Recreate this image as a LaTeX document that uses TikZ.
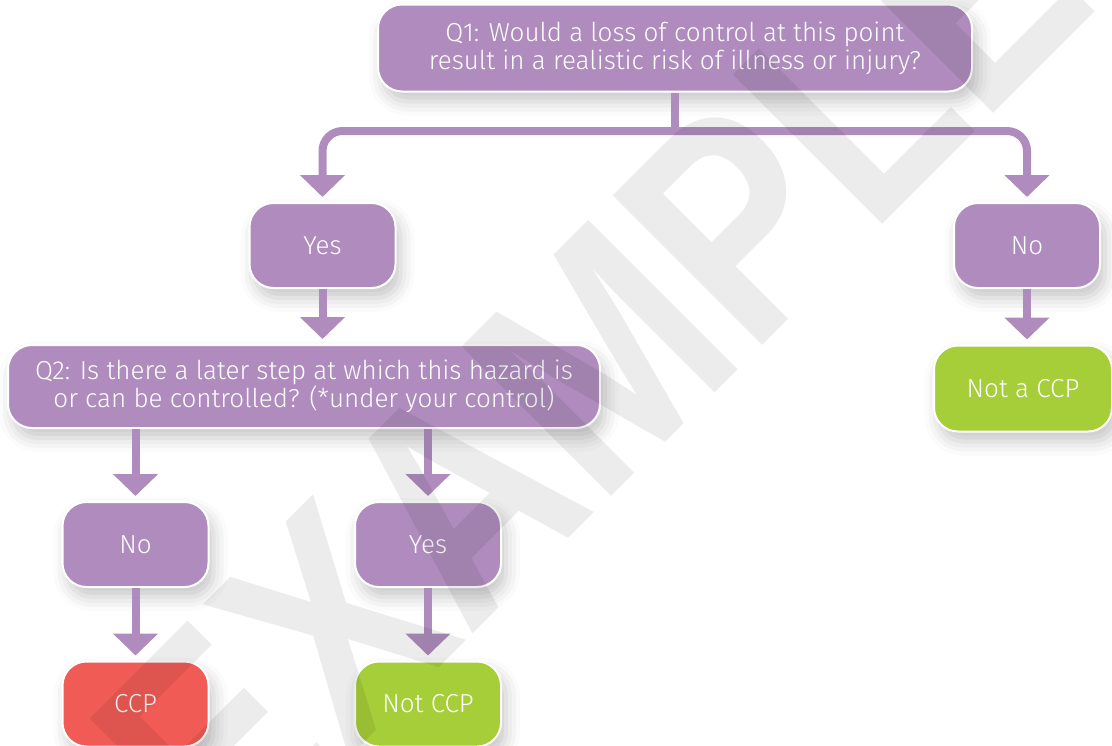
\documentclass[tikz,border=0pt]{standalone}
\usepackage{fontspec}
\setmainfont{Fira Sans}[UprightFont=* Light]
\newfontfamily\markfont{Liberation Sans}
\usetikzlibrary{arrows.meta,shadows.blur}
\definecolor{qpurple}{RGB}{175,140,189}
\definecolor{okgreen}{RGB}{166,206,57}
\definecolor{ccpred}{RGB}{240,91,85}

\begin{document}
\begin{tikzpicture}[x=0.5pt,y=-0.5pt]
\tikzset{box/.style={rounded corners=12pt,draw=white,line width=1pt,text=white,align=center,inner sep=0pt,
    font=\fontsize{13}{14}\selectfont,
    blur shadow={shadow xshift=2.5pt,shadow yshift=-5pt,shadow blur radius=7pt,shadow opacity=22}},
  small/.style={box,minimum width=73pt,minimum height=42.5pt},
  link/.style={draw=qpurple,line width=4pt},
  flow/.style={link,-{Triangle[width=22pt,length=11pt]},shorten >=2.5pt}}
\useasboundingbox (0,0) rectangle (1112,745);

% questions
\node[box,fill=qpurple,minimum width=297pt,minimum height=43.5pt] (q1) at (675,48) {Q1: Would a loss of control at this point\\result in a realistic risk of illness or injury?};
\node[box,fill=qpurple,minimum width=296pt,minimum height=41.5pt] (q2) at (304,386.5) {Q2: Is there a later step at which this hazard is\\or can be controlled? (*under your control)};

% answers
\node[small,fill=qpurple] (yes1) at (322.5,245.5) {Yes};
\node[small,fill=qpurple] (no1) at (1027,245.5) {No};
\node[small,fill=qpurple] (no2) at (135.5,544.5) {No};
\node[small,fill=qpurple] (yes2) at (428,544.5) {Yes};

% outcomes
\node[box,fill=okgreen,minimum width=89pt,minimum height=43pt] (notaccp) at (1023,388.5) {Not a CCP};
\node[small,fill=ccpred] (ccp) at (135.5,704) {CCP};
\node[small,fill=okgreen] (notccp) at (428,704) {Not CCP};

% connectors
\coordinate (split) at (675,131);
\draw[link] (q1.south) -- (split);
\draw[flow,rounded corners=10pt] (split) -| (yes1.north);
\draw[flow,rounded corners=10pt] (split) -| (no1.north);
\draw[flow] (yes1.south) -- (q2.north -| yes1.south);
\draw[flow] (no1.south) -- (notaccp.north -| no1.south);
\draw[flow] (q2.south -| no2.north) -- (no2.north);
\draw[flow] (q2.south -| yes2.north) -- (yes2.north);
\draw[flow] (no2.south) -- (ccp.north);
\draw[flow] (yes2.south) -- (notccp.north);

% watermark
\begin{scope}[shift={(590,368)}]
\node[rotate=45,yscale=1.2,transform shape,text=black,text opacity=0.075,font=\markfont\bfseries\fontsize{128}{128}\selectfont] (mark) at (0,0) {EXAMPLE};
\end{scope}
\end{tikzpicture}
\end{document}
